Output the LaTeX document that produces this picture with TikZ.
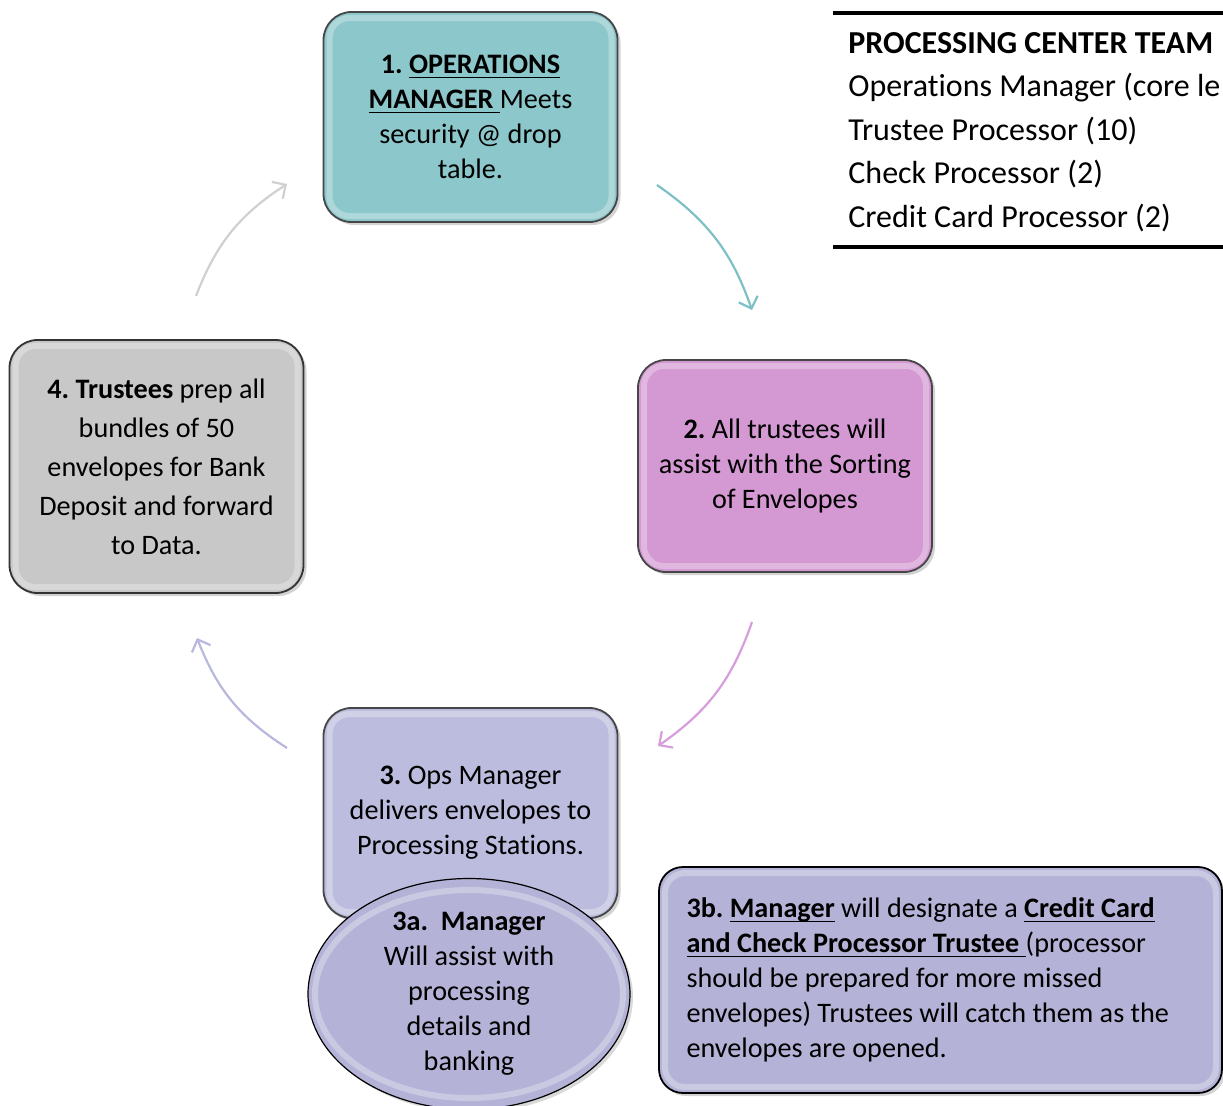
\documentclass[tikz,border=0pt]{standalone}
\usepackage{fontspec}
\setmainfont[Ligatures=NoCommon]{Carlito}
\usetikzlibrary{arrows.meta,shadows,shapes.geometric}
\frenchspacing

\definecolor{opsteal}{RGB}{140,199,203}
\definecolor{sortpink}{RGB}{212,152,210}
\definecolor{prepgray}{RGB}{200,200,200}
\definecolor{deliverlav}{RGB}{188,188,222}
\definecolor{assistlav}{RGB}{180,178,214}
\definecolor{tealarrow}{RGB}{125,192,198}
\definecolor{pinkarrow}{RGB}{214,158,220}
\definecolor{lavarrow}{RGB}{184,184,222}
\definecolor{grayarrow}{RGB}{208,208,208}

\newcommand\boxfont{\fontsize{14.1}{17.5}\selectfont}
\newcommand\teamfont{\fontsize{16}{21.75}\selectfont}
\newsavebox\ulwordbox
\newcommand\ulword[1]{\sbox\ulwordbox{#1}\rlap{\rule[-2.4pt]{\wd\ulwordbox}{0.9pt}}\usebox\ulwordbox}

\tikzset{
  stepbox/.style={rectangle, rounded corners=14pt, draw=gray!55!black, line width=0.9pt,
    minimum width=147pt, minimum height=105pt, inner sep=0pt, align=center, font=\boxfont,
    drop shadow={shadow xshift=1.5pt, shadow yshift=-1.5pt, opacity=0.35},
    path picture={\draw[white, opacity=0.3, line width=3pt, rounded corners=10pt]
      ([shift={(3pt,3pt)}]path picture bounding box.south west) rectangle
      ([shift={(-3pt,-3pt)}]path picture bounding box.north east);}},
  cyclearrow/.style={-{Straight Barb[length=5pt, width=10pt]}, line width=1.1pt, bend left=18},
}

\begin{document}
\begin{tikzpicture}[x=0.5pt, y=-0.5pt]
  \useasboundingbox (0,0) rectangle (1223,1105);
  \clip (0,0) rectangle (1223,1105);

  % cycle steps
  \node[stepbox, fill=opsteal] (ops) at (470.5,117)
    {\textbf{1. \ulword{OPERATIONS}}\\\textbf{\ulword{MANAGER\ }}Meets\\security @ drop\\table.};
  \node[stepbox, fill=sortpink] (sort) at (785,466) [minimum height=106pt]
    {\textbf{2.} All trustees will\\assist with the Sorting\\of Envelopes};
  \node[stepbox, fill=prepgray, draw=black!80, minimum height=126.5pt,
    font=\fontsize{14.1}{19.5}\selectfont] (prep) at (156.5,466.5)
    {\textbf{4. Trustees} prep all\\bundles of 50\\envelopes for Bank\\Deposit and forward\\to Data.};
  \node[stepbox, fill=deliverlav] (deliver) at (470.5,813)
    {\textbf{3.} Ops Manager\\delivers envelopes to\\Processing Stations.};
  \node[ellipse, draw=black, line width=0.6pt, fill=assistlav, minimum width=161pt, minimum height=111pt,
    inner sep=0pt, align=center, font=\boxfont,
    drop shadow={shadow xshift=1.5pt, shadow yshift=-1.5pt, opacity=0.3},
    path picture={\draw[white, opacity=0.3, line width=3pt]
      (path picture bounding box.center) ellipse [x radius=77pt, y radius=52pt];}] (assist) at (469,994)
    {\textbf{3a.\ \ Manager}\\Will assist with\\processing\\details and\\banking};
  \node[stepbox, fill=assistlav, draw=black, minimum width=281.5pt, minimum height=113pt,
    rounded corners=12pt, text width=254pt, align=flush left] (designate) at (940.5,980)
    {\textbf{3b. \ulword{Manager}} will designate a \textbf{\ulword{Credit Card}}\\
     \textbf{\ulword{and Check Processor Trustee\ }}(processor\\
     should be prepared for more missed\\
     envelopes) Trustees will catch them as the\\
     envelopes are opened.};

  % team list
  \draw[line width=2pt] (833,13) -- (1223,13);
  \draw[line width=2pt] (833,247) -- (1223,247);
  \node[anchor=north west, align=left, inner sep=0pt, font=\teamfont] (team) at (848,32)
    {\textbf{PROCESSING CENTER TEAM}\\Operations Manager (core le\\Trustee Processor (10)\\Check Processor (2)\\Credit Card Processor (2)};

  % arrows
  \coordinate (opsout) at (657,185);  \coordinate (sortin) at (752,310);
  \coordinate (sortout) at (752,622); \coordinate (deliverin) at (658,746);
  \coordinate (deliverout) at (287,748); \coordinate (prepin) at (197,638);
  \coordinate (prepout) at (196,296); \coordinate (opsin) at (287,184);
  \draw[cyclearrow, tealarrow] (opsout) to (sortin);
  \draw[cyclearrow, pinkarrow] (sortout) to (deliverin);
  \draw[cyclearrow, lavarrow] (deliverout) to (prepin);
  \draw[cyclearrow, grayarrow] (prepout) to (opsin);
\end{tikzpicture}
\end{document}
